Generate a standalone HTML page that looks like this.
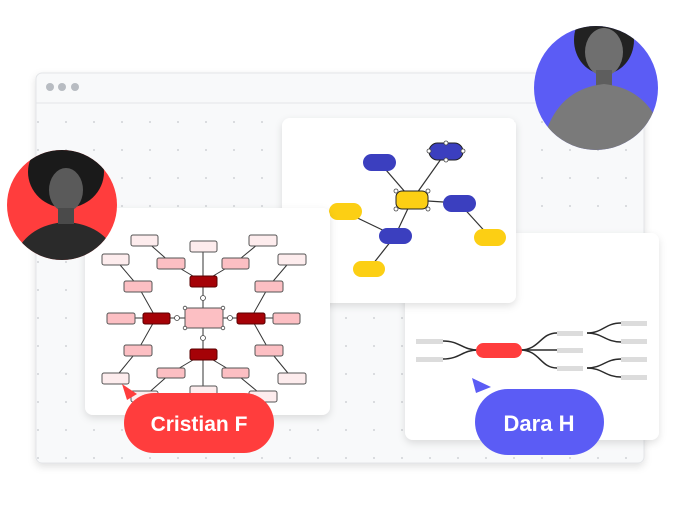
<!DOCTYPE html>
<html><head><meta charset="utf-8"><style>
html,body{margin:0;padding:0;background:#fff;width:680px;height:510px;overflow:hidden}
svg{display:block}
text{font-family:"Liberation Sans",sans-serif}
</style></head><body>
<svg width="680" height="510" viewBox="0 0 680 510">
<defs>
<pattern id="dots" x="8" y="8" width="28" height="28" patternUnits="userSpaceOnUse"><circle cx="2" cy="2" r="0.9" fill="#c4c7cc"/></pattern>
<filter id="sh" x="-20%" y="-20%" width="140%" height="140%"><feDropShadow dx="0" dy="3" stdDeviation="4" flood-color="#000" flood-opacity="0.12"/></filter>
<clipPath id="cl"><circle cx="62" cy="205" r="55"/></clipPath>
<clipPath id="cr"><circle cx="596" cy="88" r="62"/></clipPath>
</defs>
<!-- browser -->
<rect x="36" y="73" width="608" height="390" rx="6" fill="#f8f9fa" stroke="#e3e5e8" filter="url(#sh)"/>
<rect x="37" y="104" width="606" height="358" fill="url(#dots)"/>
<line x1="36" y1="103" x2="644" y2="103" stroke="#e3e5e8"/>
<circle cx="50" cy="87" r="4" fill="#b8bcc2"/><circle cx="62" cy="87" r="4" fill="#b8bcc2"/><circle cx="75" cy="87" r="4" fill="#b8bcc2"/>

<!-- card 3 -->
<rect x="405" y="233" width="254" height="207" rx="8" fill="#fff" filter="url(#sh)"/>
<g fill="none" stroke="#2b2b2b" stroke-width="1.5">
<path d="M443 341 C460 341 462 350 478 350"/><path d="M443 359 C460 359 462 350 478 350"/>
<path d="M520 350 C540 350 540 333 557 333"/><path d="M520 350 L557 350"/><path d="M520 350 C540 350 540 368 557 368"/>
<path d="M587 333 C603 333 605 323 621 323"/><path d="M587 333 C603 333 605 342 621 342"/>
<path d="M587 368 C603 368 605 359 621 359"/><path d="M587 368 C603 368 605 377 621 377"/>
</g>
<rect x="476" y="343" width="46" height="15" rx="7.5" fill="#ff3d3d"/>
<g fill="#dcdcdc"><rect x="416" y="339" width="27" height="5"/><rect x="416" y="357" width="27" height="5"/><rect x="557" y="331" width="26" height="5"/><rect x="557" y="348" width="26" height="5"/><rect x="557" y="366" width="26" height="5"/><rect x="621" y="321" width="26" height="5"/><rect x="621" y="339" width="26" height="5"/><rect x="621" y="357" width="26" height="5"/><rect x="621" y="375" width="26" height="5"/></g>

<!-- card 2 blue/yellow -->
<rect x="282" y="118" width="234" height="185" rx="8" fill="#fff" filter="url(#sh)"/>
<g stroke="#333" stroke-width="1.2">
<line x1="380" y1="163" x2="412" y2="200"/><line x1="446" y1="152" x2="412" y2="200"/>
<line x1="412" y1="200" x2="459" y2="203"/><line x1="459" y1="203" x2="490" y2="237"/>
<line x1="412" y1="200" x2="395" y2="236"/><line x1="345" y1="212" x2="395" y2="236"/>
<line x1="395" y1="236" x2="369" y2="269"/>
</g>
<g fill="#3b3fbf"><rect x="363" y="154" width="33" height="17" rx="8.5"/><rect x="429" y="143" width="34" height="17" rx="8.5" stroke="#222"/><rect x="443" y="195" width="33" height="17" rx="8.5"/><rect x="379" y="228" width="33" height="16" rx="8"/></g>
<g fill="#fccf14"><rect x="396" y="191" width="32" height="18" rx="6" stroke="#222"/><rect x="474" y="229" width="32" height="17" rx="8.5"/><rect x="329" y="203" width="33" height="17" rx="8.5"/><rect x="353" y="261" width="32" height="16" rx="8"/></g>
<g fill="#fff" stroke="#444" stroke-width="0.8"><circle cx="396" cy="191" r="2"/><circle cx="428" cy="191" r="2"/><circle cx="396" cy="209" r="2"/><circle cx="428" cy="209" r="2"/><circle cx="446" cy="143" r="2"/><circle cx="446" cy="160" r="2"/><circle cx="429" cy="151" r="2"/><circle cx="463" cy="151" r="2"/></g>

<!-- card 1 pink -->
<rect x="85" y="208" width="245" height="207" rx="8" fill="#fff" filter="url(#sh)"/>
<g stroke="#333" stroke-width="1">
<line x1="203" y1="282" x2="203" y2="246"/><line x1="203" y1="282" x2="171" y2="263"/><line x1="203" y1="282" x2="235" y2="263"/><line x1="171" y1="263" x2="145" y2="240"/><line x1="235" y1="263" x2="263" y2="240"/>
<line x1="203" y1="354" x2="203" y2="391"/><line x1="203" y1="354" x2="171" y2="373"/><line x1="203" y1="354" x2="235" y2="373"/><line x1="171" y1="373" x2="145" y2="396"/><line x1="235" y1="373" x2="263" y2="396"/>
<line x1="156" y1="318" x2="121" y2="318"/><line x1="156" y1="318" x2="138" y2="286"/><line x1="156" y1="318" x2="138" y2="350"/><line x1="138" y1="286" x2="115" y2="259"/><line x1="138" y1="350" x2="115" y2="378"/>
<line x1="251" y1="318" x2="286" y2="318"/><line x1="251" y1="318" x2="269" y2="286"/><line x1="251" y1="318" x2="269" y2="350"/><line x1="269" y1="286" x2="292" y2="259"/><line x1="269" y1="350" x2="292" y2="378"/>
<line x1="203" y1="287" x2="203" y2="308"/><line x1="203" y1="328" x2="203" y2="349"/><line x1="170" y1="318" x2="185" y2="318"/><line x1="223" y1="318" x2="237" y2="318"/>
</g>
<g stroke="#555" stroke-width="1">
<g fill="#fdeced"><rect x="190" y="241" width="27" height="11" rx="2"/><rect x="131" y="235" width="27" height="11" rx="2"/><rect x="249" y="235" width="28" height="11" rx="2"/><rect x="102" y="254" width="27" height="11" rx="2"/><rect x="278" y="254" width="28" height="11" rx="2"/><rect x="102" y="373" width="27" height="11" rx="2"/><rect x="278" y="373" width="28" height="11" rx="2"/><rect x="190" y="386" width="27" height="11" rx="2"/><rect x="131" y="391" width="27" height="11" rx="2"/><rect x="249" y="391" width="28" height="11" rx="2"/></g>
<g fill="#fcbfc3"><rect x="157" y="258" width="28" height="11" rx="2"/><rect x="222" y="258" width="27" height="11" rx="2"/><rect x="124" y="281" width="28" height="11" rx="2"/><rect x="255" y="281" width="28" height="11" rx="2"/><rect x="107" y="313" width="28" height="11" rx="2"/><rect x="273" y="313" width="27" height="11" rx="2"/><rect x="124" y="345" width="28" height="11" rx="2"/><rect x="255" y="345" width="28" height="11" rx="2"/><rect x="157" y="368" width="28" height="10" rx="2"/><rect x="222" y="368" width="27" height="10" rx="2"/><rect x="185" y="308" width="38" height="20" rx="2"/></g>
<g fill="#a50207" stroke="#5a0000"><rect x="190" y="276" width="27" height="11" rx="2"/><rect x="190" y="349" width="27" height="11" rx="2"/><rect x="143" y="313" width="27" height="11" rx="2"/><rect x="237" y="313" width="28" height="11" rx="2"/></g>
</g>
<g fill="#fff" stroke="#444" stroke-width="0.8"><circle cx="203" cy="298" r="2.5"/><circle cx="203" cy="338" r="2.5"/><circle cx="177" cy="318" r="2.5"/><circle cx="230" cy="318" r="2.5"/><circle cx="185" cy="308" r="1.8"/><circle cx="223" cy="308" r="1.8"/><circle cx="185" cy="328" r="1.8"/><circle cx="223" cy="328" r="1.8"/></g>

<!-- avatars -->
<circle cx="62" cy="205" r="55" fill="#ff3d3d"/>
<g clip-path="url(#cl)">
<ellipse cx="66" cy="172" rx="38" ry="36" fill="#1a1a1a"/>
<ellipse cx="66" cy="190" rx="17" ry="22" fill="#5a5a5a"/>
<path d="M10 270 Q20 225 66 222 Q112 225 122 270 Z" fill="#2a2a2a"/>
<rect x="58" y="208" width="16" height="16" fill="#4a4a4a"/>
</g>
<circle cx="596" cy="88" r="62" fill="#5b5cf5"/>
<g clip-path="url(#cr)">
<ellipse cx="604" cy="40" rx="30" ry="34" fill="#222"/>
<ellipse cx="604" cy="52" rx="19" ry="24" fill="#6f6f6f"/>
<rect x="596" y="70" width="16" height="18" fill="#5e5e5e"/>
<path d="M540 160 Q548 90 604 84 Q660 90 668 160 Z" fill="#7a7a7a"/>
</g>

<!-- labels -->
<path d="M122 384 L137 394 L127 400 Z" fill="#ff3d3d"/>
<rect x="124" y="393" width="150" height="60" rx="30" fill="#ff3d3d"/>
<text x="199" y="431" font-size="21" font-weight="bold" fill="#fff" text-anchor="middle">Cristian F</text>
<path d="M472 378 L491 387 L476 393 Z" fill="#5b5cf5"/>
<rect x="475" y="389" width="129" height="66" rx="33" fill="#5b5cf5"/>
<text x="539" y="431" font-size="22" font-weight="bold" fill="#fff" text-anchor="middle">Dara H</text>
</svg>
</body></html>
